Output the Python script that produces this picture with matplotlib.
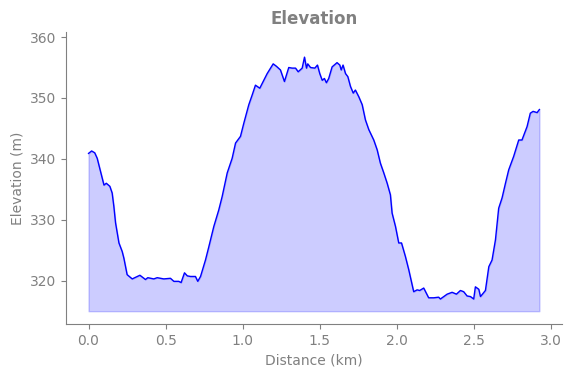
import matplotlib
matplotlib.use('Agg')
import matplotlib.pyplot as plt

# distance along the route (km) and elevation (m)
distance = [0.0, 0.02, 0.04, 0.056, 0.078, 0.1, 0.115, 0.138, 0.153, 0.164, 0.175,
            0.197, 0.218, 0.229, 0.25, 0.283, 0.333, 0.369, 0.384, 0.423, 0.445,
            0.488, 0.531, 0.553, 0.585, 0.6, 0.622, 0.64, 0.661, 0.693, 0.708,
            0.726, 0.758, 0.78, 0.812, 0.844, 0.866, 0.899, 0.931, 0.953, 0.985,
            1.007, 1.039, 1.061, 1.082, 1.11, 1.126, 1.158, 1.197, 1.218, 1.244,
            1.27, 1.298, 1.32, 1.342, 1.359, 1.385, 1.4, 1.413, 1.421, 1.439,
            1.467, 1.484, 1.499, 1.515, 1.529, 1.542, 1.557, 1.579, 1.611, 1.629,
            1.638, 1.65, 1.666, 1.681, 1.698, 1.716, 1.73, 1.752, 1.774, 1.795,
            1.817, 1.849, 1.871, 1.892, 1.914, 1.936, 1.957, 1.968, 1.99, 2.011,
            2.029, 2.054, 2.076, 2.108, 2.13, 2.147, 2.173, 2.205, 2.238, 2.27,
            2.281, 2.325, 2.357, 2.385, 2.411, 2.432, 2.454, 2.476, 2.497, 2.508,
            2.53, 2.541, 2.573, 2.595, 2.616, 2.638, 2.659, 2.681, 2.703, 2.724,
            2.756, 2.789, 2.81, 2.843, 2.864, 2.882, 2.908, 2.923]
elevation = [340.9, 341.3, 341.0, 340.1, 337.9, 335.7, 336.0, 335.5, 334.4, 332.2, 329.5,
             326.2, 324.8, 323.7, 321.0, 320.3, 320.9, 320.2, 320.5, 320.3, 320.5,
             320.3, 320.4, 319.9, 319.9, 319.7, 321.3, 320.8, 320.7, 320.7, 319.9,
             320.7, 323.4, 325.6, 328.9, 331.6, 333.8, 337.7, 340.1, 342.6, 343.7,
             345.9, 348.9, 350.5, 352.1, 351.6, 352.4, 354.0, 355.6, 355.2, 354.6,
             352.7, 355.0, 354.9, 354.9, 354.3, 354.9, 356.7, 354.9, 355.6, 355.0,
             354.9, 355.4, 354.0, 352.9, 353.2, 352.5, 353.2, 355.1, 355.8, 355.4,
             354.6, 355.4, 354.0, 353.5, 351.9, 350.8, 351.3, 350.2, 348.9, 346.4,
             344.8, 343.1, 341.5, 339.3, 337.7, 336.0, 334.1, 331.1, 328.9, 326.2,
             326.2, 324.0, 321.8, 318.2, 318.5, 318.4, 318.8, 317.2, 317.2, 317.3,
             317.0, 317.8, 318.1, 317.8, 318.4, 318.2, 317.5, 317.4, 317.0, 319.0,
             318.6, 317.4, 318.4, 322.3, 323.4, 326.7, 331.9, 333.6, 336.0, 338.2,
             340.4, 343.1, 343.1, 345.3, 347.5, 347.8, 347.6, 348.1]
baseline = min(elevation) - 2

fig = plt.figure(figsize=(5.72, 3.78), dpi=100)
ax = fig.add_axes([0.1154, 0.1429, 0.867, 0.772])

ax.plot(distance, elevation, color='blue', linewidth=1)
ax.fill_between(distance, elevation, baseline, color='blue', alpha=0.2)

ax.set_ylim(312.9, 360.8)
ax.set_title('Elevation', fontsize=12, fontweight='bold', color='gray')
ax.set_xlabel('Distance (km)', color='gray')
ax.set_ylabel('Elevation (m)', color='gray')

for side in ['top', 'right']:
    ax.spines[side].set_visible(False)
for side in ['left', 'bottom']:
    ax.spines[side].set_color('gray')
ax.tick_params(colors='gray')

fig.savefig('out.png', dpi=100)
